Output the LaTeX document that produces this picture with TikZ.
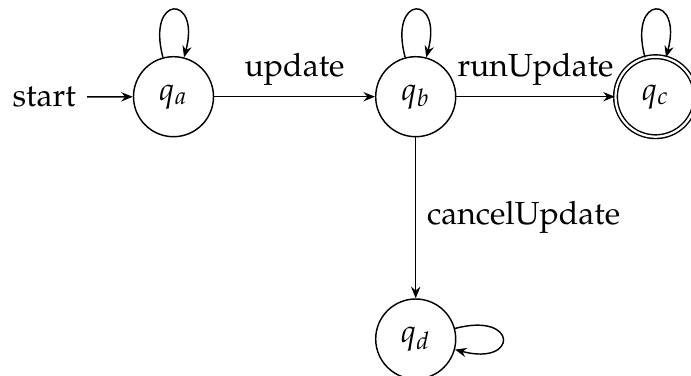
\documentclass[tikz,border=0pt]{standalone}
\usepackage[T1]{fontenc}
\usepackage{mathpazo}
\usetikzlibrary{arrows.meta}
\begin{document}
\begin{tikzpicture}[x=0.3125pt, y=-0.3125pt,
  every node/.style={font=\fontsize{10}{12}\selectfont},
  statenode/.style={circle, draw, line width=0.45pt, minimum size=25pt, inner sep=0pt},
  acceptnode/.style={statenode, double, double distance=0.7pt},
  trans/.style={-{Stealth[length=3.6pt,width=2.9pt,inset=1.2pt]}, line width=0.45pt},
  every loop/.style={trans}]
  \useasboundingbox (0,0) rectangle (691,376);

  % states
  \node[statenode] (qa) at (173.5,96.7) {$q_a$};
  \node[statenode] (qb) at (415.7,96.7) {$q_b$};
  \node[acceptnode] (qc) at (655.5,96.7) {$q_c$};
  \node[statenode] (qd) at (415.7,339) {$q_d$};

  % initial marker
  \node[anchor=east] (start) at (87,97) {start};
  \draw[trans] (start) -- (qa);

  % transitions
  \draw[trans] (qa) -- node[above] (lupd) {update} (qb);
  \draw[trans] (qb) -- node[above] (lrun) {runUpdate} (qc);
  \draw[trans] (qb) -- node[right] (lcan) {cancelUpdate} (qd);

  % self loops
  \draw (qa) edge[loop above] (qa);
  \draw (qb) edge[loop above] (qb);
  \draw (qc) edge[loop above] (qc);
  \draw (qd) edge[loop right] (qd);
\end{tikzpicture}
\end{document}
